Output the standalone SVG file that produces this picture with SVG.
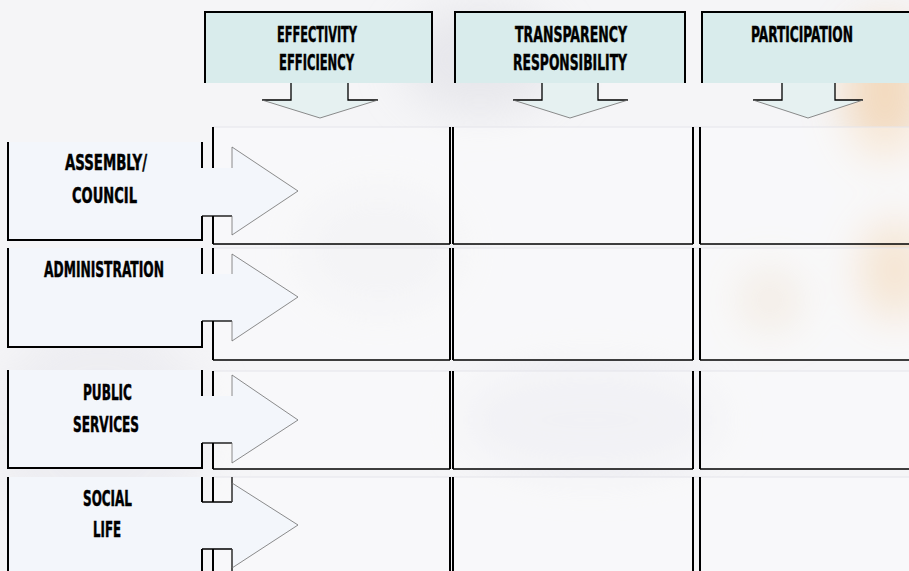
<svg xmlns="http://www.w3.org/2000/svg" width="909" height="571" viewBox="0 0 909 571">
<defs>
<filter id="blur" x="-60%" y="-60%" width="220%" height="220%"><feGaussianBlur stdDeviation="22"/></filter>
<style>
.lbl{font-family:"DejaVu Sans Condensed","DejaVu Sans",sans-serif;font-weight:bold;font-size:21px;fill:#000;stroke:#000;stroke-width:0.45}
.blk{stroke:#000;stroke-width:2;fill:none}
.blkh{stroke:#000;stroke-width:1.3;fill:none}
.gry{stroke:#6e6e6e;stroke-width:0.8;fill:none}
.hdr{fill:#d9ecec}
.hdra{fill:#e6f1f1}
.box{fill:#f3f6fb}
.cell{fill:#ffffff;fill-opacity:0.35}
.ctop{stroke:#e4e4ea;stroke-width:1;fill:none}
</style>
</defs>
<rect width="909" height="571" fill="#f5f5f7"/>
<g filter="url(#blur)" opacity="0.75">
<ellipse cx="885" cy="90" rx="40" ry="70" fill="#f2d0aa"/>
<ellipse cx="895" cy="270" rx="35" ry="50" fill="#efcca4"/>
<ellipse cx="770" cy="300" rx="30" ry="30" fill="#eadac6"/>
<ellipse cx="480" cy="60" rx="80" ry="55" fill="#e3e3e8"/>
<ellipse cx="100" cy="430" rx="110" ry="110" fill="#ebebf0"/>
<ellipse cx="590" cy="420" rx="130" ry="55" fill="#e7e7ee"/>
<ellipse cx="380" cy="250" rx="80" ry="60" fill="#ececf0"/>
</g>

<g id="grid">
<rect class="cell" x="213" y="127" width="237" height="117"/>
<rect class="cell" x="453" y="127" width="240" height="117"/>
<rect class="cell" x="700" y="127" width="215" height="117"/>
<rect class="cell" x="213" y="248" width="237" height="112"/>
<rect class="cell" x="453" y="248" width="240" height="112"/>
<rect class="cell" x="700" y="248" width="215" height="112"/>
<rect class="cell" x="213" y="371" width="237" height="98"/>
<rect class="cell" x="453" y="371" width="240" height="98"/>
<rect class="cell" x="700" y="371" width="215" height="98"/>
<rect class="cell" x="213" y="477" width="237" height="100"/>
<rect class="cell" x="453" y="477" width="240" height="100"/>
<rect class="cell" x="700" y="477" width="215" height="100"/>
<path class="ctop" d="M213,127H909M213,248H909M213,371H909M213,477H909"/>
<path class="blk" d="M213,127V244M450,127V244M453,127V244M693,127V244M700,127V244"/>
<path class="blk" d="M213,248V360M450,248V360M453,248V360M693,248V360M700,248V360"/>
<path class="blk" d="M213,371V469M450,371V469M453,371V469M693,371V469M700,371V469"/>
<path class="blk" d="M213,477V571M450,477V571M453,477V571M693,477V571M700,477V571"/>
<path class="blkh" d="M213,244H450M453,244H693M700,244H909M213,360H450M453,360H693M700,360H909M213,469H450M453,469H693M700,469H909"/>
</g>

<g id="header-effectivity">
<rect class="hdr" x="205" y="12" width="227" height="71"/>
<path class="hdra" d="M291,83H348V100H378L320,118L262,100H291Z"/>
<path class="blk" d="M205,83V12H432V83"/>
<path class="blkh" d="M262,100H291V83M348,83V100H378"/>
<path class="gry" d="M262,100L320,118L378,100"/>
<text class="lbl" x="277" y="42" textLength="80" lengthAdjust="spacingAndGlyphs">EFFECTIVITY</text>
<text class="lbl" x="279" y="70" textLength="75" lengthAdjust="spacingAndGlyphs">EFFICIENCY</text>
</g>

<g id="header-transparency">
<rect class="hdr" x="455" y="12" width="230" height="71"/>
<path class="hdra" d="M542,83H598V100H628L570,118L513,100H542Z"/>
<path class="blk" d="M455,83V12H685V83"/>
<path class="blkh" d="M513,100H542V83M598,83V100H628"/>
<path class="gry" d="M513,100L570,118L628,100"/>
<text class="lbl" x="515" y="42" textLength="112" lengthAdjust="spacingAndGlyphs">TRANSPARENCY</text>
<text class="lbl" x="513" y="70" textLength="114" lengthAdjust="spacingAndGlyphs">RESPONSIBILITY</text>
</g>

<g id="header-participation">
<rect class="hdr" x="702" y="12" width="215" height="71"/>
<path class="hdra" d="M782,83H835V100H863L808,118L753,100H782Z"/>
<path class="blk" d="M702,83V12H915"/>
<path class="blkh" d="M753,100H782V83M835,83V100H863"/>
<path class="gry" d="M753,100L808,118L863,100"/>
<text class="lbl" x="751" y="42" textLength="102" lengthAdjust="spacingAndGlyphs">PARTICIPATION</text>
</g>

<g id="row-assembly">
<path class="box" d="M8,142H202V168H232V147L298,191L232,235V216H202V240H8Z"/>
<path class="blk" d="M8,142V240H202V216M202,142V168"/>
<path class="blkh" d="M202,216H232"/>
<path class="gry" d="M232,168V147L298,191L232,235V216"/>
<text class="lbl" x="65" y="170" textLength="82" lengthAdjust="spacingAndGlyphs">ASSEMBLY/</text>
<text class="lbl" x="72" y="203" textLength="65" lengthAdjust="spacingAndGlyphs">COUNCIL</text>
</g>

<g id="row-administration">
<path class="box" d="M8,248H202V274H232V254L298,297L232,341V321H202V347H8Z"/>
<path class="blk" d="M8,248V347H202V321M202,248V274"/>
<path class="blkh" d="M202,321H232"/>
<path class="gry" d="M232,274V254L298,297L232,341V321"/>
<text class="lbl" x="44" y="277" textLength="120" lengthAdjust="spacingAndGlyphs">ADMINISTRATION</text>
</g>

<g id="row-public-services">
<path class="box" d="M8,370H202V396H232V375L298,420L232,463V443H202V468H8Z"/>
<path class="blk" d="M8,370V468H202V443M202,370V396"/>
<path class="blkh" d="M202,443H232"/>
<path class="gry" d="M232,396V375L298,420L232,463V443"/>
<text class="lbl" x="83" y="400" textLength="49" lengthAdjust="spacingAndGlyphs">PUBLIC</text>
<text class="lbl" x="73" y="432" textLength="66" lengthAdjust="spacingAndGlyphs">SERVICES</text>
</g>

<g id="row-social-life">
<path class="box" d="M8,477H202V502H232V483L298,525L232,568V549H202V580H8Z"/>
<path class="blk" d="M8,477V580M202,580V549M202,477V502"/>
<path class="blkh" d="M202,549H232M202,502H232M232,477V502M232,549V571"/>
<path class="gry" d="M232,502V483L298,525L232,568V549"/>
<text class="lbl" x="83" y="506" textLength="49" lengthAdjust="spacingAndGlyphs">SOCIAL</text>
<text class="lbl" x="93" y="537" textLength="28" lengthAdjust="spacingAndGlyphs">LIFE</text>
</g>

<g id="connectors"></g>
</svg>
